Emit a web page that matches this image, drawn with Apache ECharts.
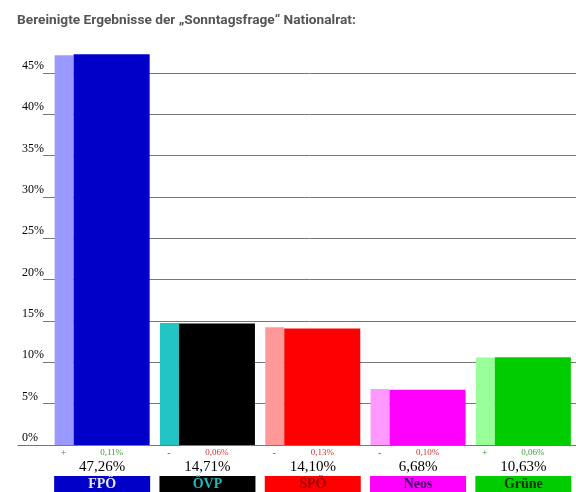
<!DOCTYPE html>
<html>
<head>
<meta charset="utf-8">
<script src="https://cdn.jsdelivr.net/npm/echarts@6/dist/echarts.min.js"></script>
<style>
  html, body { margin: 0; padding: 0; background: #fff; }
  #chart { width: 576px; height: 492px; }
</style>
</head>
<body>
<div id="chart"></div>
<script>
// Daten
var parteien = ['FPÖ', 'ÖVP', 'SPÖ', 'Neos', 'Grüne'];
var aktuell = [47.26, 14.71, 14.10, 6.68, 10.63];
var vorher = [47.15, 14.77, 14.23, 6.78, 10.57];
var veraenderung = [0.11, -0.06, -0.13, -0.10, 0.06];
var yTicks = [0, 5, 10, 15, 20, 25, 30, 35, 40, 45];

// Farben pro Partei
var farbeHell = ['#9999ff', '#22c4c4', '#ff9999', '#ff99ff', '#99ff99'];
var farbeVoll = ['#0000c8', '#000000', '#ff0000', '#ff00ff', '#00cc00'];
var farbeText = ['#e8e8ff', '#22b8b8', '#990000', '#3a0060', '#003300'];

var chart = echarts.init(document.getElementById('chart'));

function fmt(v) {
    return v.toFixed(2).replace('.', ',') + '%';
}

var rich = {
    sp: { color: '#3a9a3a', fontSize: 10, width: 19, align: 'center', lineHeight: 12, fontFamily: 'Liberation Serif' },
    sm: { color: '#cc3333', fontSize: 10, width: 19, align: 'center', lineHeight: 12, fontFamily: 'Liberation Serif' },
    cp: { color: '#3a9a3a', fontSize: 9, width: 77, align: 'center', lineHeight: 12, fontFamily: 'Liberation Serif' },
    cm: { color: '#cc3333', fontSize: 9, width: 77, align: 'center', lineHeight: 12, fontFamily: 'Liberation Serif' },
    v: { color: '#000', fontSize: 15, width: 96, align: 'center', lineHeight: 17, fontFamily: 'Liberation Serif' }
};
parteien.forEach(function (p, i) {
    rich['n' + i] = {
        backgroundColor: farbeVoll[i],
        color: farbeText[i],
        width: 96,
        height: 16,
        lineHeight: 16,
        align: 'center',
        fontSize: 14,
        fontWeight: 'bold',
        fontFamily: 'Liberation Serif'
    };
});

var option = {
    animation: false,
    title: {
        text: 'Bereinigte Ergebnisse der „Sonntagsfrage“ Nationalrat:',
        left: 17,
        top: 9,
        padding: [5, 5, 5, 0],
        textStyle: { fontFamily: 'Roboto', fontWeight: 'bold', fontSize: 13.7, color: '#555' }
    },
    grid: [
        { left: 43, right: 0, top: 73, bottom: 47 },   // Hilfslinien
        { left: 18, right: 0, top: 73, bottom: 47 },   // Nulllinie
        { left: 49.5, right: 0, top: 73, bottom: 47 }  // Balken
    ],
    xAxis: [
        { gridIndex: 0, type: 'value', show: false },
        {
            gridIndex: 1, type: 'value', show: true,
            axisLine: { show: true, lineStyle: { color: '#777', width: 1 } },
            axisTick: { show: false }, axisLabel: { show: false }, splitLine: { show: false }
        },
        {
            gridIndex: 2, type: 'category', data: parteien,
            axisLine: { show: false }, axisTick: { show: false },
            axisLabel: {
                interval: 0,
                margin: 2,
                rich: rich,
                formatter: function (value, idx) {
                    var d = veraenderung[idx];
                    var plus = d >= 0;
                    return '{' + (plus ? 'sp' : 'sm') + '|' + (plus ? '+' : '-') + '}' +
                        '{' + (plus ? 'cp' : 'cm') + '|' + fmt(Math.abs(d)) + '}\n' +
                        '{v|' + fmt(aktuell[idx]) + '}\n' +
                        '{n' + idx + '|' + value + '}';
                }
            }
        }
    ],
    yAxis: [
        {
            gridIndex: 0, type: 'value', min: yTicks[0], max: yTicks[yTicks.length - 1], interval: 5,
            axisLine: { show: false }, axisTick: { show: false },
            splitLine: { lineStyle: { color: '#777', width: 1 } },
            axisLabel: {
                margin: 21, align: 'left', verticalAlign: 'bottom',
                padding: [0, 0, 1, 0],
                fontFamily: 'Liberation Serif', fontSize: 12, color: '#000',
                formatter: '{value}%'
            }
        },
        { gridIndex: 1, type: 'value', min: 0, max: 45, show: false, splitLine: { show: false } },
        { gridIndex: 2, type: 'value', min: 0, max: 45, show: false, splitLine: { show: false } }
    ],
    series: [
        {
            name: 'vorher', type: 'bar', xAxisIndex: 2, yAxisIndex: 2,
            barWidth: 19, barGap: 0, clip: false,
            data: vorher.map(function (v, i) { return { value: v, itemStyle: { color: farbeHell[i] } }; })
        },
        {
            name: 'aktuell', type: 'bar', xAxisIndex: 2, yAxisIndex: 2,
            barWidth: 76, barGap: 0, clip: false,
            data: aktuell.map(function (v, i) { return { value: v, itemStyle: { color: farbeVoll[i] } }; })
        }
    ]
};

chart.setOption(option);
</script>
</body>
</html>
